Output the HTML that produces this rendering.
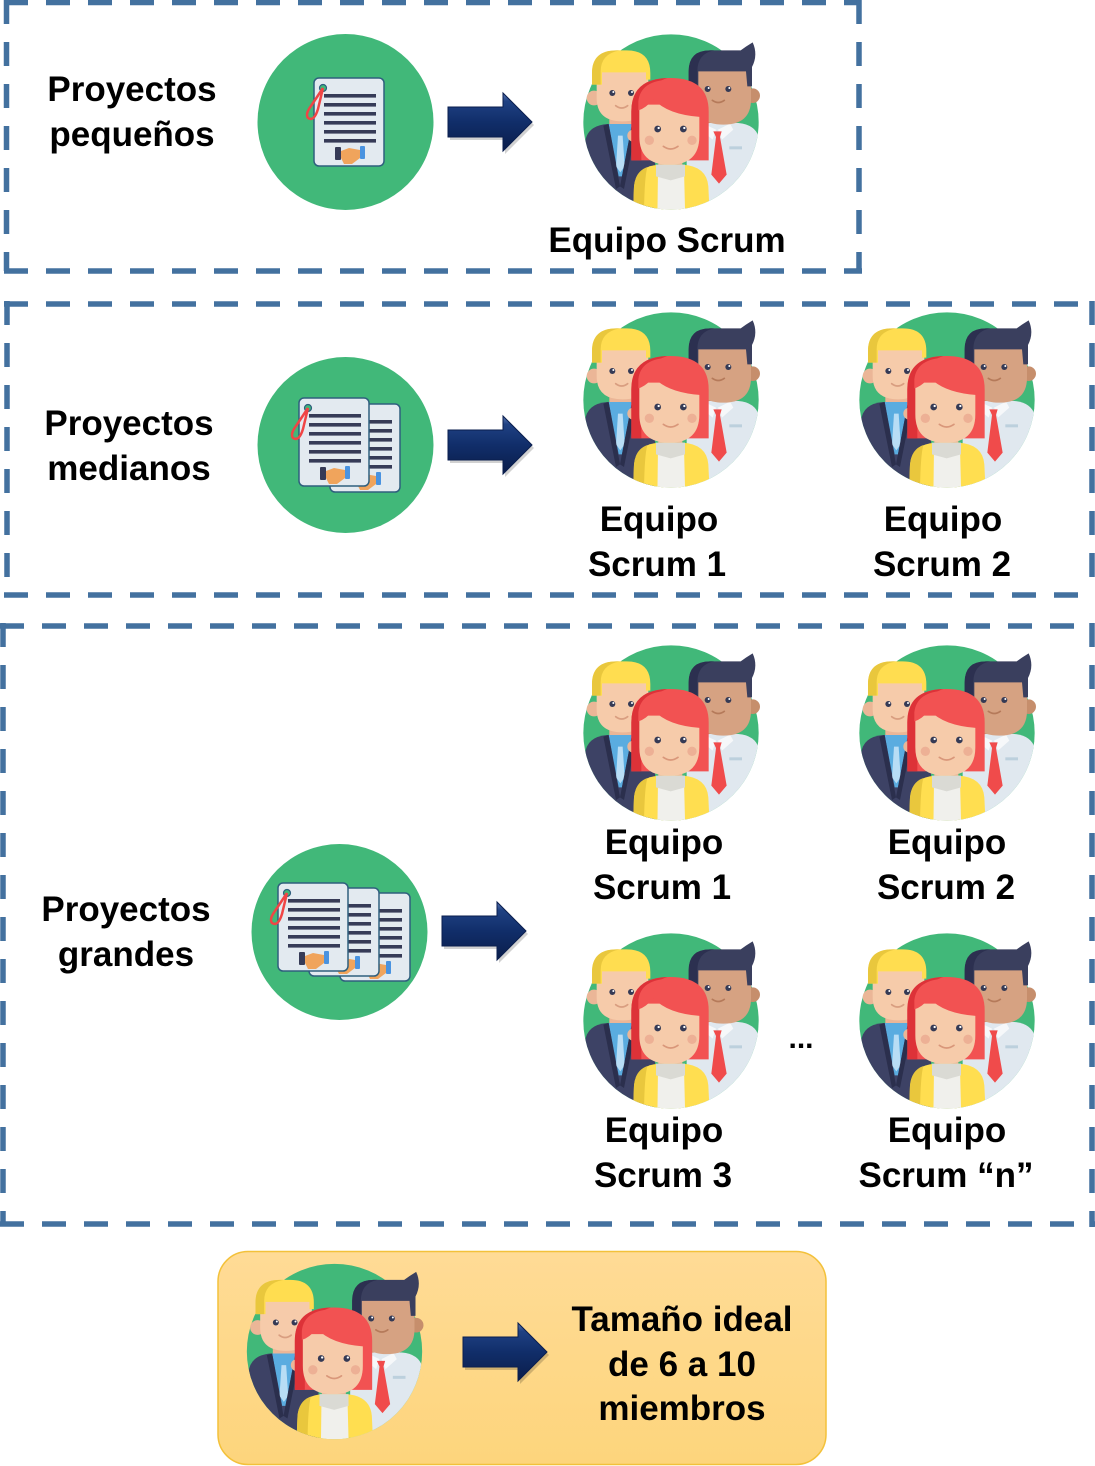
<!DOCTYPE html>
<html>
<head>
<meta charset="utf-8">
<style>
  html,body{margin:0;padding:0;background:#fff;}
  svg{display:block;}
  text{font-family:"Liberation Sans", Arial, sans-serif;font-weight:bold;font-size:35px;fill:#000;}
</style>
</head>
<body>
<svg xmlns="http://www.w3.org/2000/svg" xmlns:xlink="http://www.w3.org/1999/xlink" width="1095" height="1466" viewBox="0 0 1095 1466">
  <defs>
    <clipPath id="tc"><circle cx="303" cy="277" r="263"/></clipPath>
    <linearGradient id="ag" x1="0" y1="0" x2="0" y2="1">
      <stop offset="0" stop-color="#5A78B4"/>
      <stop offset="0.14" stop-color="#1F4183"/>
      <stop offset="0.5" stop-color="#112E6A"/>
      <stop offset="1" stop-color="#0A1D4A"/>
    </linearGradient>
    <linearGradient id="bg" x1="0" y1="0" x2="0" y2="1">
      <stop offset="0" stop-color="#FFDB96"/>
      <stop offset="1" stop-color="#FDD57C"/>
    </linearGradient>

    <g id="team">
      <circle cx="303" cy="277" r="263" fill="#41B879"/>
      <rect x="118" y="240" width="68" height="55" fill="#EBB697"/>
      <rect x="405" y="245" width="68" height="50" fill="#C68E6C"/>
      <g clip-path="url(#tc)">
        <path d="M45,575 L45,340 Q50,288 112,283 L255,283 L255,575 Z" fill="#3D4265"/>
        <polygon points="116,283 186,283 156,440 146,440" fill="#5AACE0"/>
        <polygon points="144,318 158,318 164,410 151,428 138,410" fill="#B8DDF5"/>
        <polygon points="100,288 116,283 150,470 138,478" fill="#2B2F4D"/>
        <polygon points="200,288 186,283 150,470 162,478" fill="#2B2F4D"/>
        <path d="M350,575 L350,330 Q355,283 420,280 L505,280 Q565,285 570,340 L570,575 Z" fill="#E0E8EF"/>
        <polygon points="400,282 438,300 428,330 392,300" fill="#F6F8FA"/>
        <polygon points="480,282 444,300 456,330 490,300" fill="#F6F8FA"/>
        <polygon points="430,305 455,305 450,322 470,435 447,462 424,435 438,322" fill="#F04B4B"/>
        <rect x="478" y="350" width="38" height="9" fill="#BCD0DD"/>
      </g>
      <!-- left man head -->
      <circle cx="72" cy="205" r="22" fill="#EBB697"/>
      <path d="M80,125 L80,205 Q80,275 157,275 Q235,275 235,205 L235,125 Z" fill="#F6CBAA"/>
      <path d="M66,165 L66,130 Q66,62 140,62 L170,62 Q241,62 241,130 L241,150 L228,150 L228,128 L96,128 L96,165 Z" fill="#FFDD50"/>
      <path d="M66,165 L66,130 Q66,62 140,62 L150,62 Q92,72 92,125 L92,165 Z" fill="#E9C73D"/>
      <circle cx="127" cy="190" r="9" fill="#353A55"/>
      <circle cx="183" cy="190" r="9" fill="#353A55"/>
      <circle cx="130" cy="187" r="3" fill="#fff"/>
      <circle cx="186" cy="187" r="3" fill="#fff"/>
      <path d="M137,228 Q155,242 173,228" stroke="#D99E80" stroke-width="5" fill="none" stroke-linecap="round"/>
      <!-- right man head -->
      <circle cx="548" cy="198" r="22" fill="#C68E6C"/>
      <path d="M378,120 L378,210 Q378,285 460,285 Q543,285 543,210 L543,120 Z" fill="#D6A282"/>
      <path d="M356,205 L356,125 Q356,62 420,62 L512,62 Q528,50 548,38 Q565,75 546,112 L546,170 L532,170 L528,125 L385,125 L385,205 Z" fill="#3A3F5E"/>
      <path d="M356,205 L356,125 Q356,62 420,62 L432,62 Q382,72 382,125 L382,205 Z" fill="#2C3050"/>
      <circle cx="413" cy="178" r="9" fill="#353A55"/>
      <circle cx="475" cy="178" r="9" fill="#353A55"/>
      <circle cx="416" cy="175" r="3" fill="#fff"/>
      <circle cx="478" cy="175" r="3" fill="#fff"/>
      <path d="M427,212 Q445,225 463,212" stroke="#B57A5A" stroke-width="5" fill="none" stroke-linecap="round"/>
      <!-- woman -->
      <circle cx="190" cy="318" r="18" fill="#EBB697"/>
      <rect x="265" y="378" width="72" height="52" fill="#EBB697"/>
      <g clip-path="url(#tc)">
        <path d="M188,575 L192,470 Q198,410 268,405 L338,405 Q410,410 415,470 L420,575 Z" fill="#FFDE50"/>
        <path d="M188,575 L192,470 Q196,425 232,412 Q222,450 222,575 Z" fill="#E9C73D"/>
        <polygon points="264,420 342,420 346,575 262,575" fill="#F0F0EC"/>
        <polygon points="258,405 345,405 345,440 302,452 258,440" fill="#DADAD4"/>
      </g>
      <path d="M184,392 L184,245 Q184,145 300,145 Q416,145 416,245 L416,392 Z" fill="#F25252"/>
      <path d="M184,392 L184,245 Q184,148 292,145 Q216,170 214,262 L214,392 Z" fill="#DD3238"/>
      <path d="M208,225 L208,320 Q208,405 298,405 Q388,405 388,320 L388,225 Z" fill="#F6CBAA"/>
      <path d="M205,242 Q228,236 250,208 Q292,255 392,262 L392,210 Q385,152 300,150 Q212,152 205,215 Z" fill="#F25252"/>
      <circle cx="238" cy="332" r="14" fill="#EDB095"/>
      <circle cx="366" cy="332" r="14" fill="#EDB095"/>
      <circle cx="263" cy="298" r="10" fill="#353A55"/>
      <circle cx="340" cy="298" r="10" fill="#353A55"/>
      <circle cx="266" cy="295" r="3.5" fill="#fff"/>
      <circle cx="343" cy="295" r="3.5" fill="#fff"/>
      <path d="M280,350 Q302,366 324,350" stroke="#D9977A" stroke-width="5" fill="none" stroke-linecap="round"/>
    </g>

    <g id="doc">
      <rect x="0" y="0" width="70" height="88" rx="5" fill="#E3EAF0" stroke="#2F5F7E" stroke-width="1.5"/>
      <g fill="#363B57">
        <rect x="10" y="16" width="52" height="3.6"/>
        <rect x="10" y="25" width="52" height="3.6"/>
        <rect x="10" y="34" width="52" height="3.6"/>
        <rect x="10" y="43" width="52" height="3.6"/>
        <rect x="10" y="52" width="52" height="3.6"/>
        <rect x="10" y="61" width="52" height="3.6"/>
      </g>
      <rect x="21" y="69" width="6" height="13" rx="1" fill="#363B57"/>
      <rect x="46" y="68" width="5" height="13" rx="1" fill="#4A93E0"/>
      <path d="M27,73 L35,70 L46,72 L46,80 L38,86 L30,86 L27,80 Z" fill="#F0A45C"/>
    </g>
    <g id="docfront">
      <use xlink:href="#doc"/>
      <circle cx="9" cy="10" r="3.5" fill="#3FB879" stroke="#2F5F7E" stroke-width="1.2"/>
      <path d="M9,10 L4,31 Q0,44 -6,40 Q-9,36 -3,28 L9,10" stroke="#F04545" stroke-width="2.5" fill="none" stroke-linejoin="round"/>
    </g>

    <g id="arrow">
      <polygon points="2,-12 57,-12 57,-26 86,3 57,32 57,18 2,18" fill="#000" opacity="0.18"/>
      <polygon points="0,-15 55,-15 55,-29 84,0 55,29 55,15 0,15" fill="url(#ag)" stroke="#0A1E4E" stroke-width="1"/>
    </g>
  </defs>

  <g stroke="#43719F" stroke-width="5.5" fill="none" stroke-dasharray="24 18">
    <line x1="4" y1="2.5" x2="859" y2="2.5"/>
    <line x1="6.5" y1="0" x2="6.5" y2="271"/>
    <line x1="859" y1="0" x2="859" y2="271"/>
    <line x1="4" y1="271" x2="862" y2="271"/>

    <line x1="4" y1="304" x2="1092" y2="304"/>
    <line x1="7" y1="301" x2="7" y2="595"/>
    <line x1="1092" y1="301" x2="1092" y2="595"/>
    <line x1="4" y1="595" x2="1095" y2="595"/>

    <line x1="0" y1="626" x2="1092" y2="626"/>
    <line x1="3" y1="623" x2="3" y2="1224"/>
    <line x1="1092" y1="623" x2="1092" y2="1227"/>
    <line x1="0" y1="1224" x2="1095" y2="1224"/>
  </g>

  <text x="132" y="101" text-anchor="middle">Proyectos</text>
  <text x="132" y="146" text-anchor="middle">pequeños</text>
  <circle cx="345.5" cy="122" r="88" fill="#41B879"/>
  <use xlink:href="#docfront" transform="translate(314,78)"/>
  <use xlink:href="#arrow" transform="translate(448,122)"/>
  <use xlink:href="#team" transform="translate(570,29.67) scale(0.33333)"/>
  <text x="667" y="252" text-anchor="middle">Equipo Scrum</text>

  <text x="129" y="435" text-anchor="middle">Proyectos</text>
  <text x="129" y="480" text-anchor="middle">medianos</text>
  <circle cx="345.5" cy="445" r="88" fill="#41B879"/>
  <use xlink:href="#doc" transform="translate(330,404)"/>
  <use xlink:href="#docfront" transform="translate(299,398)"/>
  <use xlink:href="#arrow" transform="translate(448,445)"/>
  <use xlink:href="#team" transform="translate(570,307.67) scale(0.33333)"/>
  <use xlink:href="#team" transform="translate(846,307.67) scale(0.33333)"/>
  <text x="659" y="531" text-anchor="middle">Equipo</text>
  <text x="657" y="576" text-anchor="middle">Scrum 1</text>
  <text x="943" y="531" text-anchor="middle">Equipo</text>
  <text x="942" y="576" text-anchor="middle">Scrum 2</text>

  <text x="126" y="921" text-anchor="middle">Proyectos</text>
  <text x="126" y="966" text-anchor="middle">grandes</text>
  <circle cx="339.5" cy="932" r="88" fill="#41B879"/>
  <use xlink:href="#doc" transform="translate(340,893)"/>
  <use xlink:href="#doc" transform="translate(309,888)"/>
  <use xlink:href="#docfront" transform="translate(278,883)"/>
  <use xlink:href="#arrow" transform="translate(442,931)"/>
  <use xlink:href="#team" transform="translate(570,640.67) scale(0.33333)"/>
  <use xlink:href="#team" transform="translate(846,640.67) scale(0.33333)"/>
  <use xlink:href="#team" transform="translate(570,928.67) scale(0.33333)"/>
  <use xlink:href="#team" transform="translate(846,928.67) scale(0.33333)"/>
  <text x="664" y="854" text-anchor="middle">Equipo</text>
  <text x="662" y="899" text-anchor="middle">Scrum 1</text>
  <text x="947" y="854" text-anchor="middle">Equipo</text>
  <text x="946" y="899" text-anchor="middle">Scrum 2</text>
  <text x="664" y="1142" text-anchor="middle">Equipo</text>
  <text x="663" y="1187" text-anchor="middle">Scrum 3</text>
  <text x="947" y="1142" text-anchor="middle">Equipo</text>
  <text x="946" y="1187" text-anchor="middle">Scrum “n”</text>
  <text x="801" y="1048" text-anchor="middle" style="font-size:30px">...</text>

  <rect x="218" y="1251.5" width="608" height="213" rx="30" ry="30" fill="url(#bg)" stroke="#F3C13A" stroke-width="1.5"/>
  <use xlink:href="#team" transform="translate(233.5,1259.17) scale(0.33333)"/>
  <use xlink:href="#arrow" transform="translate(463,1352)"/>
  <text x="682" y="1331" text-anchor="middle">Tamaño ideal</text>
  <text x="682" y="1376" text-anchor="middle">de 6 a 10</text>
  <text x="682" y="1420" text-anchor="middle">miembros</text>
</svg>
</body>
</html>
